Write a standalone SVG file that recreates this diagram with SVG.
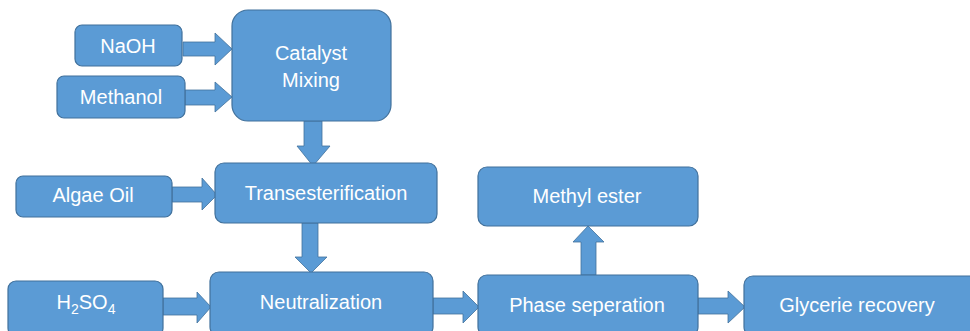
<svg xmlns="http://www.w3.org/2000/svg" width="970" height="331" viewBox="0 0 970 331">
<style>
.box{fill:#5B9BD5;stroke:#41719C;stroke-width:1.2}
.arr{fill:#5B9BD5;stroke:#41719C;stroke-width:0.8}
text{font-family:"Liberation Sans",Arial,sans-serif;font-size:20px;fill:#ffffff;text-anchor:middle}
</style>
<rect width="970" height="331" fill="#ffffff"/>
<g id="connectors">
<polygon class="arr" points="183,42 215,42 215,33 232,49 215,65 215,56 183,56"/>
<polygon class="arr" points="185,90 215,90 215,82 232,97 215,112 215,105 185,105"/>
<polygon class="arr" points="304,121 322,121 322,146 330,146 313,166 297,146 304,146"/>
<polygon class="arr" points="172,187 202,187 202,178 217,195 202,210 202,202 172,202"/>
<polygon class="arr" points="302,223 318,223 318,257 327,257 311,273 295,257 302,257"/>
<polygon class="arr" points="163,298 197,298 197,292 211,307 197,323 197,315 163,315"/>
<polygon class="arr" points="433,298 463,298 463,291 479,307 463,323 463,314 433,314"/>
<polygon class="arr" points="581,275 596,275 596,242 604,242 588,226 573,242 581,242"/>
<polygon class="arr" points="698,298 728,298 728,291 745,307 728,323 728,314 698,314"/>
</g>
<g id="naoh"><rect class="box" x="75" y="25" width="107" height="41" rx="7"/><text x="128" y="53">NaOH</text></g>
<g id="methanol"><rect class="box" x="57" y="76" width="128" height="42" rx="7"/><text x="121" y="104">Methanol</text></g>
<g id="catalyst"><rect class="box" x="232" y="10" width="159" height="111" rx="16"/><text x="311" y="60">Catalyst</text><text x="311" y="87">Mixing</text></g>
<g id="algae"><rect class="box" x="16" y="176" width="156" height="41" rx="7"/><text x="93" y="202">Algae Oil</text></g>
<g id="trans"><rect class="box" x="215" y="163" width="222" height="60" rx="9"/><text x="326" y="200">Transesterification</text></g>
<g id="h2so4"><rect class="box" x="8" y="281" width="155" height="55" rx="8"/><text x="86" y="309" font-size="22">H<tspan font-size="14" dy="5">2</tspan><tspan dy="-5">SO</tspan><tspan font-size="14" dy="5">4</tspan></text></g>
<g id="neutral"><rect class="box" x="210" y="272" width="223" height="64" rx="9"/><text x="321" y="309">Neutralization</text></g>
<g id="methyl"><rect class="box" x="478" y="167" width="220" height="59" rx="9"/><text x="587" y="203">Methyl ester</text></g>
<g id="phase"><rect class="box" x="478" y="275" width="220" height="61" rx="9"/><text x="587" y="312">Phase seperation</text></g>
<g id="glycerie"><rect class="box" x="744" y="276" width="240" height="60" rx="9"/><text x="857" y="312">Glycerie recovery</text></g>
</svg>
